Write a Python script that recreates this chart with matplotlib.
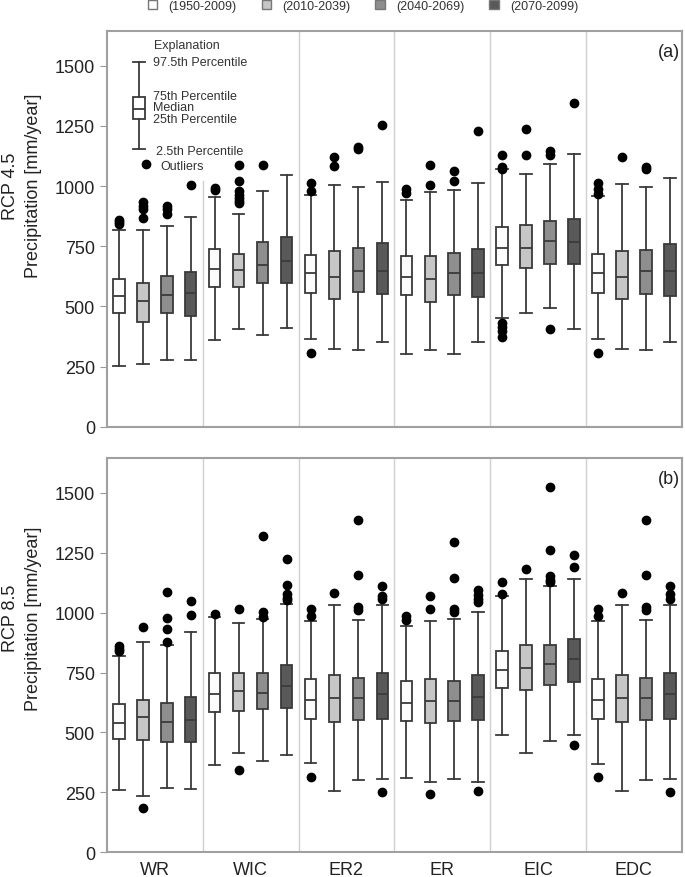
import matplotlib
matplotlib.use('Agg')
import matplotlib.pyplot as plt
from matplotlib.patches import Patch, Rectangle

plt.rcParams['font.family'] = ['Liberation Sans', 'DejaVu Sans']

# 区域和时期
regions = ['WR', 'WIC', 'ER2', 'ER', 'EIC', 'EDC']
periods = ['(1950-2009)', '(2010-2039)', '(2040-2069)', '(2070-2099)']
period_colors = ['#fcfcfc', '#c6c6c6', '#8e8e8e', '#595959']

# RCP 4.5 数据, 每个区域4个时期
rcp45_hi = [[819, 819, 836, 872], [956, 886, 979, 1045], [963, 1003, 997, 1017],
            [944, 976, 985, 1011], [1073, 1049, 1091, 1133], [958, 1007, 997, 1035]]
rcp45_q3 = [[614, 599, 628, 644], [740, 716, 766, 788], [715, 729, 744, 762],
            [710, 710, 724, 740], [830, 840, 854, 864], [716, 729, 735, 758]]
rcp45_med = [[542, 521, 546, 557], [655, 652, 674, 690], [638, 624, 646, 646],
             [624, 614, 637, 637], [744, 744, 772, 766], [637, 624, 646, 646]]
rcp45_q1 = [[471, 437, 471, 460], [579, 579, 599, 599], [554, 529, 561, 550],
            [549, 520, 549, 539], [673, 660, 677, 677], [557, 529, 553, 545]]
rcp45_lo = [[253, 262, 276, 276], [359, 405, 383, 411], [364, 323, 318, 351],
            [304, 318, 304, 351], [453, 471, 493, 405], [364, 322, 318, 351]]
rcp45_out = [
    [[858, 850, 842], [933, 919, 905, 869], [917, 903, 883], [1006]],
    [[992, 983], [1086, 1022, 980, 965, 950, 938, 928], [1087], []],
    [[1014, 981, 308], [1121, 1085], [1162, 1153], [1253]],
    [[986, 972], [1089, 1003], [1062, 1021], [1229]],
    [[1129, 1080, 1073, 432, 415, 396, 373], [1238, 1129], [1145, 1131, 404], [1346]],
    [[1014, 986, 966, 308], [1120], [1080, 1073], []],
]

# RCP 8.5 数据
rcp85_hi = [[819, 877, 865, 918], [982, 958, 974, 1037], [964, 1032, 971, 1032],
            [945, 967, 972, 1003], [1069, 1141, 1113, 1140], [963, 1033, 971, 1033]]
rcp85_q3 = [[618, 635, 621, 650], [747, 747, 750, 783], [723, 741, 727, 750],
            [714, 723, 716, 740], [839, 864, 864, 888], [723, 740, 727, 750]]
rcp85_med = [[541, 563, 544, 553], [660, 674, 664, 692], [636, 642, 642, 660],
             [622, 631, 631, 647], [761, 770, 784, 808], [636, 642, 642, 660]]
rcp85_q1 = [[474, 469, 461, 461], [584, 589, 597, 604], [557, 542, 553, 556],
            [546, 539, 546, 553], [687, 678, 698, 712], [556, 542, 552, 556]]
rcp85_lo = [[260, 236, 268, 264], [365, 416, 379, 407], [371, 256, 301, 306],
            [310, 292, 304, 292], [490, 413, 466, 490], [369, 256, 301, 306]]
rcp85_out = [
    [[860, 848, 841], [939, 184], [1084, 979, 932, 878], [1048, 990]],
    [[996], [1014, 344], [1319, 1003, 982], [1222, 1116, 1079, 1062, 1051]],
    [[1017, 985, 314], [1081], [1387, 1155, 1023, 1012], [1109, 1068, 1055, 253]],
    [[985, 971], [1069, 1017, 245], [1296, 1144, 1017, 1003], [1095, 1072, 1058, 1044, 256]],
    [[1126, 1079], [1184], [1524, 1263, 1152, 1138, 1129], [1242, 1189, 447]],
    [[1017, 985, 314], [1082], [1387, 1155, 1023, 1012], [1109, 1079, 1058, 253]],
]

# 图例说明用的箱子: 2.5, 25, 50, 75, 97.5
expl_vals = [1153, 1279, 1321, 1372, 1517]

offsets = [-0.375, -0.125, 0.125, 0.375]
edge = '#3a3a3a'


def make_stats(lo, q1, med, q3, hi, out):
    stats = []
    for i in range(len(regions)):
        for j in range(len(periods)):
            stats.append(dict(whislo=lo[i][j], q1=q1[i][j], med=med[i][j],
                              q3=q3[i][j], whishi=hi[i][j], fliers=out[i][j]))
    return stats


def draw_panel(ax, stats, tag, ylabel, label_y):
    positions = [i + o for i in range(len(regions)) for o in offsets]
    bp = ax.bxp(stats, positions=positions, widths=0.12, capwidths=0.12,
                patch_artist=True, showfliers=True, zorder=3, manage_ticks=False,
                boxprops=dict(edgecolor=edge, linewidth=1.3),
                whiskerprops=dict(color=edge, linewidth=1.3),
                capprops=dict(color=edge, linewidth=1.3),
                medianprops=dict(color=edge, linewidth=1.3),
                flierprops=dict(marker='o', markerfacecolor='black',
                                markeredgecolor='black', markersize=6))
    for k, box in enumerate(bp['boxes']):
        box.set_facecolor(period_colors[k % 4])
    for x in range(len(regions) - 1):
        ax.axvline(x + 0.5, color='#d0d0d0', lw=1, zorder=1)
    ax.set_xlim(-0.5, len(regions) - 0.5)
    ax.set_ylim(0, 1645)
    ax.set_yticks([0, 250, 500, 750, 1000, 1250, 1500])
    ax.set_xticks(range(len(regions)))
    ax.tick_params(axis='y', labelsize=13, length=5, color='#999999', labelcolor='#222222')
    ax.tick_params(axis='x', length=0, labelsize=13, pad=6, labelcolor='#222222')
    for s in ax.spines.values():
        s.set_color('#a0a0a0')
        s.set_linewidth(1.5)
    ax.set_ylabel(ylabel, fontsize=13, color='#222222', multialignment='center',
                  linespacing=1.45)
    ax.yaxis.set_label_coords(-0.113, label_y)
    ax.text(0.997, 0.947, tag, transform=ax.transAxes, ha='right', va='center',
            fontsize=13, color='#222222')


fig = plt.figure(figsize=(6.85, 8.78), dpi=100)
ax_a = fig.add_axes([0.156, 0.5129, 0.8394, 0.4507])
ax_b = fig.add_axes([0.156, 0.0281, 0.8394, 0.4491])

draw_panel(ax_a, make_stats(rcp45_lo, rcp45_q1, rcp45_med, rcp45_q3, rcp45_hi, rcp45_out),
           '(a)', 'RCP 4.5\nPrecipitation [mm/year]', 0.61)
draw_panel(ax_b, make_stats(rcp85_lo, rcp85_q1, rcp85_med, rcp85_q3, rcp85_hi, rcp85_out),
           '(b)', 'RCP 8.5\nPrecipitation [mm/year]', 0.595)

ax_a.set_xticklabels([])
ax_b.set_xticklabels(regions)

# 说明框
ax_a.add_patch(Rectangle((-0.5, 1020), 1.5, 700, facecolor='white', edgecolor='none', zorder=1.5))
expl = [dict(whislo=expl_vals[0], q1=expl_vals[1], med=expl_vals[2],
             q3=expl_vals[3], whishi=expl_vals[4], fliers=[])]
ax_a.bxp(expl, positions=[-0.165], widths=0.13, capwidths=0.13, patch_artist=True,
         showfliers=False, zorder=3, manage_ticks=False,
         boxprops=dict(facecolor='white', edgecolor=edge, linewidth=1.3),
         whiskerprops=dict(color=edge, linewidth=1.3),
         capprops=dict(color=edge, linewidth=1.3),
         medianprops=dict(color=edge, linewidth=1.3))
ax_a.plot([-0.09], [1090], 'o', color='black', markersize=6, zorder=3)
efont = dict(fontsize=9, color='#333333', family=['Liberation Sans Narrow', 'Liberation Sans'],
             va='center', ha='left', zorder=4)
ax_a.text(-0.009, 1587, 'Explanation', **efont)
ax_a.text(-0.023, 1517, '97.5th Percentile', **efont)
ax_a.text(-0.023, 1375, '75th Percentile', **efont)
ax_a.text(-0.023, 1327, 'Median', **efont)
ax_a.text(-0.023, 1281, '25th Percentile', **efont)
ax_a.text(0.011, 1146, '2.5th Percentile', **efont)
ax_a.text(0.06, 1082, 'Outliers', **efont)

# 顶部图例
handles = [Patch(facecolor=c, edgecolor='#777777', linewidth=1) for c in period_colors]
fig.legend(handles, periods, loc='center', bbox_to_anchor=(0.53, 0.992), ncol=4,
           frameon=False, fontsize=9, handlelength=0.75, handleheight=0.75,
           handletextpad=0.9, columnspacing=2.0, labelcolor='#333333')

fig.savefig('out.png', dpi=100)
